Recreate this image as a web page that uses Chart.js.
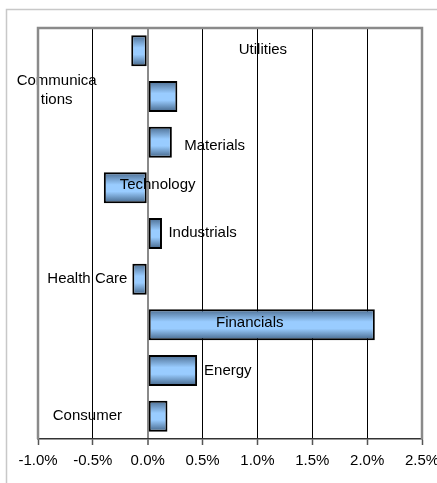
<!DOCTYPE html>
<html>
<head>
<meta charset="utf-8">
<title>Sector contribution</title>
<script src="https://cdn.jsdelivr.net/npm/chart.js@4.4.0/dist/chart.umd.min.js"></script>
<style>
    html, body { margin: 0; padding: 0; background: #fff; }
    #wrap { width: 437px; height: 483px; }
</style>
</head>
<body>
<div id="wrap"><canvas id="sectors" width="437" height="483"></canvas></div>
<script>
(function () {
    "use strict";

    /** Data */
    var sectors = ['Utilities', 'Communications', 'Materials', 'Technology', 'Industrials',
                   'Health Care', 'Financials', 'Energy', 'Consumer'];
    var contribution = [-0.15, 0.27, 0.22, -0.40, 0.13, -0.14, 2.07, 0.45, 0.18];
    var axisTicks = [-1.0, -0.5, 0.0, 0.5, 1.0, 1.5, 2.0, 2.5];

    /** Where each text label sits: x in axis units, dy in px from bar centre */
    var labelPlacement = [
        { text: ['Utilities'], x: 1.05, dy: -1 },
        { text: ['Communica', 'tions'], x: -0.83, dy: -6 },
        { text: ['Materials'], x: 0.61, dy: 4 },
        { text: ['Technology'], x: 0.09, dy: -3 },
        { text: ['Industrials'], x: 0.50, dy: -1 },
        { text: ['Health Care'], x: -0.55, dy: 0 },
        { text: ['Financials'], x: 0.93, dy: -2 },
        { text: ['Energy'], x: 0.73, dy: 0 },
        { text: ['Consumer'], x: -0.55, dy: 0 }
    ];

    var barPct = 0.68;
    var fontFamily = '"Liberation Sans", Arial, sans-serif';

    /** Outer frame and plot box */
    var framePlugin = {
        id: 'frame',
        beforeDraw: function (chart) {
            var c = chart.ctx;
            c.save();
            c.fillStyle = '#fff';
            c.fillRect(0, 0, chart.width, chart.height);
            c.strokeStyle = '#c8c8c8';
            c.lineWidth = 1.5;
            c.beginPath();
            c.moveTo(6.5, chart.height);
            c.lineTo(6.5, 9.5);
            c.lineTo(chart.width, 9.5);
            c.stroke();
            c.restore();
        },
        afterDraw: function (chart) {
            var a = chart.chartArea;
            var c = chart.ctx;
            c.save();
            c.strokeStyle = '#8a8a8a';
            c.lineWidth = 2.5;
            c.beginPath();
            c.moveTo(a.left, a.bottom);
            c.lineTo(a.left, a.top);
            c.lineTo(a.right, a.top);
            c.lineTo(a.right, a.bottom);
            c.stroke();
            c.restore();
        }
    };

    /** Text labels beside the bars */
    var labelPlugin = {
        id: 'sectorLabels',
        afterDatasetsDraw: function (chart) {
            var meta = chart.getDatasetMeta(0);
            var xs = chart.scales.x;
            var c = chart.ctx;
            c.save();
            c.font = '15px ' + fontFamily;
            c.fillStyle = '#000';
            c.textAlign = 'center';
            c.textBaseline = 'middle';
            meta.data.forEach(function (bar, i) {
                var p = labelPlacement[i];
                var x = xs.getPixelForValue(p.x);
                var lh = 19;
                var y0 = bar.y + p.dy - (p.text.length - 1) * lh / 2;
                p.text.forEach(function (line, k) {
                    c.fillText(line, x, y0 + k * lh);
                });
            });
            c.restore();
        }
    };

    /** Vertical gradient on each bar, like the spreadsheet fill */
    function barFill(context) {
        var chart = context.chart;
        var ys = chart.scales.y;
        if (!ys || !chart.chartArea) {
            return '#99ccff';
        }
        var yc = ys.getPixelForValue(context.dataIndex);
        var half = (ys.height / sectors.length) * barPct / 2;
        var g = chart.ctx.createLinearGradient(0, yc - half, 0, yc + half);
        g.addColorStop(0, '#4a6b8f');
        g.addColorStop(0.4, '#99ccff');
        g.addColorStop(0.62, '#99ccff');
        g.addColorStop(1, '#426386');
        return g;
    }

    var ctx = document.getElementById('sectors').getContext('2d');
    var sectorChart = new Chart(ctx, {
        type: 'bar',
        data: {
            labels: sectors,
            datasets: [{
                label: 'Contribution',
                data: contribution,
                backgroundColor: barFill,
                borderColor: '#000',
                borderWidth: 2,
                borderSkipped: false,
                barPercentage: barPct,
                categoryPercentage: 1
            }]
        },
        options: {
            indexAxis: 'y',
            responsive: false,
            animation: false,
            layout: {
                padding: { top: 28, left: 38, right: 15, bottom: 0 }
            },
            plugins: {
                legend: { display: false },
                tooltip: { enabled: false }
            },
            scales: {
                y: {
                    display: false
                },
                x: {
                    min: axisTicks[0],
                    max: axisTicks[axisTicks.length - 1],
                    afterBuildTicks: function (scale) {
                        scale.ticks = axisTicks.map(function (v) { return { value: v }; });
                    },
                    afterFit: function (scale) {
                        scale.height = 44;
                        scale.paddingLeft = 0;
                        scale.paddingRight = 0;
                    },
                    grid: {
                        color: function (c) {
                            var v = c.tick ? c.tick.value : null;
                            if (v === axisTicks[0] || v === axisTicks[axisTicks.length - 1]) {
                                return 'rgba(0,0,0,0)';
                            }
                            return v === 0 ? '#8a8a8a' : '#000';
                        },
                        lineWidth: function (c) {
                            return (c.tick && c.tick.value === 0) ? 2 : 1;
                        },
                        tickLength: 6,
                        tickColor: '#555',
                        tickWidth: 1.5
                    },
                    border: {
                        display: true,
                        color: '#333',
                        width: 1.5
                    },
                    ticks: {
                        padding: 7,
                        color: '#000',
                        maxRotation: 0,
                        autoSkip: false,
                        font: { family: fontFamily, size: 15 },
                        callback: function (v) {
                            return Number(v).toFixed(1) + '%';
                        }
                    }
                }
            }
        },
        plugins: [framePlugin, labelPlugin]
    });
})();
</script>
</body>
</html>
